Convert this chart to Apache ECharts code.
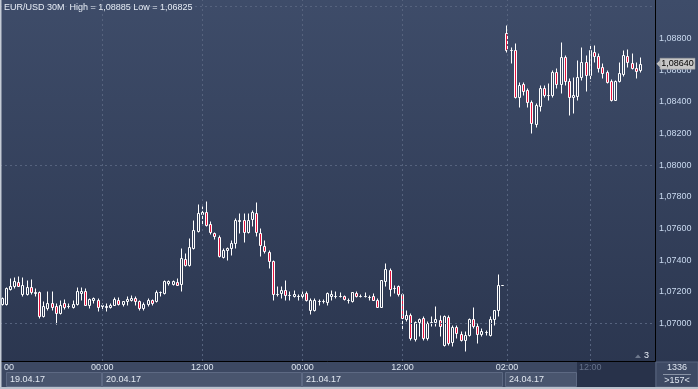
<!DOCTYPE html>
<html><head><meta charset="utf-8">
<script src="https://cdn.jsdelivr.net/npm/echarts/dist/echarts.min.js"></script>
<style>html,body{margin:0;padding:0;background:#2c3750;overflow:hidden}#c{width:698px;height:389px}</style>
</head><body><div id="c"></div>
<script>
// ---- data (EUR/USD 30M) ----
const opens = [1.07126,1.07126,1.07219,1.07235,1.07265,1.07187,1.07187,1.07229,1.07195,1.07200,
1.07050,1.07099,1.07130,1.07109,1.07067,1.07130,1.07108,1.07105,1.07124,1.07193,
1.07203,1.07120,1.07151,1.07151,1.07110,1.07106,1.07105,1.07120,1.07151,1.07126,
1.07140,1.07149,1.07162,1.07145,1.07099,1.07124,1.07149,1.07140,1.07198,1.07193,
1.07256,1.07250,1.07263,1.07250,1.07408,1.07367,1.07477,1.07586,1.07691,1.07704,
1.07628,1.07571,1.07548,1.07418,1.07467,1.07477,1.07508,1.07650,1.07655,1.07575,
1.07660,1.07697,1.07571,1.07487,1.07452,1.07392,1.07187,1.07193,1.07214,1.07180,
1.07172,1.07175,1.07172,1.07193,1.07088,1.07088,1.07144,1.07141,1.07134,1.07176,
1.07176,1.07177,1.07172,1.07151,1.07140,1.07193,1.07176,1.07176,1.07168,1.07172,
1.07151,1.07105,1.07266,1.07340,1.07224,1.07235,1.07189,1.07030,1.07057,1.06904,
1.07008,1.07036,1.06910,1.07007,1.07008,1.07025,1.06868,1.07042,1.06882,1.06979,
1.06937,1.06895,1.06931,1.07030,1.06987,1.06937,1.06946,1.06931,1.07030,1.07084,
1.07246,1.08831,1.08724,1.08726,1.08428,1.08510,1.08474,1.08400,1.08260,1.08373,
1.08485,1.08443,1.08443,1.08586,1.08512,1.08684,1.08533,1.08428,1.08436,1.08554,
1.08652,1.08569,1.08715,1.08688,1.08621,1.08590,1.08533,1.08411,1.08533,1.08575,
1.08688,1.08646,1.08615,1.08600];
const closes = [1.07164,1.07227,1.07239,1.07266,1.07239,1.07246,1.07229,1.07200,1.07202,1.07046,
1.07109,1.07130,1.07105,1.07067,1.07120,1.07105,1.07110,1.07126,1.07203,1.07208,
1.07120,1.07156,1.07162,1.07105,1.07115,1.07110,1.07120,1.07156,1.07126,1.07140,
1.07158,1.07162,1.07140,1.07099,1.07124,1.07151,1.07130,1.07200,1.07200,1.07271,
1.07271,1.07266,1.07246,1.07414,1.07372,1.07483,1.07592,1.07697,1.07704,1.07624,
1.07578,1.07554,1.07424,1.07466,1.07478,1.07508,1.07655,1.07655,1.07575,1.07655,
1.07707,1.07575,1.07498,1.07455,1.07392,1.07189,1.07189,1.07214,1.07181,1.07181,
1.07187,1.07177,1.07187,1.07151,1.07151,1.07147,1.07145,1.07140,1.07193,1.07189,
1.07177,1.07176,1.07156,1.07150,1.07197,1.07172,1.07177,1.07176,1.07170,1.07151,
1.07105,1.07273,1.07345,1.07219,1.07225,1.07187,1.07036,1.07057,1.06910,1.07008,
1.07030,1.06910,1.07004,1.07009,1.07030,1.06983,1.07046,1.06878,1.06979,1.06941,
1.06899,1.06931,1.07030,1.06987,1.06937,1.06951,1.06946,1.07030,1.07084,1.07246,
1.07246,1.08726,1.08726,1.08428,1.08506,1.08470,1.08400,1.08264,1.08380,1.08485,
1.08443,1.08445,1.08590,1.08512,1.08680,1.08533,1.08432,1.08443,1.08558,1.08652,
1.08569,1.08726,1.08690,1.08611,1.08579,1.08526,1.08411,1.08533,1.08579,1.08695,
1.08652,1.08611,1.08596,1.08640];
const lows = [1.07120,1.07120,1.07215,1.07225,1.07235,1.07172,1.07183,1.07187,1.07172,1.07036,
1.07040,1.07088,1.07088,1.06998,1.07060,1.07095,1.07099,1.07100,1.07120,1.07151,
1.07115,1.07099,1.07130,1.07077,1.07088,1.07082,1.07100,1.07115,1.07120,1.07109,
1.07120,1.07140,1.07120,1.07088,1.07088,1.07113,1.07120,1.07135,1.07172,1.07187,
1.07246,1.07241,1.07241,1.07203,1.07361,1.07362,1.07470,1.07581,1.07628,1.07613,
1.07567,1.07534,1.07420,1.07416,1.07403,1.07435,1.07477,1.07571,1.07518,1.07570,
1.07617,1.07550,1.07424,1.07445,1.07351,1.07147,1.07172,1.07162,1.07151,1.07151,
1.07166,1.07151,1.07162,1.07140,1.07061,1.07077,1.07120,1.07130,1.07120,1.07151,
1.07162,1.07166,1.07147,1.07130,1.07138,1.07168,1.07168,1.07168,1.07147,1.07147,
1.07105,1.07105,1.07235,1.07172,1.07193,1.07172,1.06962,1.07014,1.06899,1.06888,
1.06920,1.06899,1.06899,1.06983,1.06983,1.06920,1.06861,1.06868,1.06861,1.06910,
1.06888,1.06825,1.06920,1.06973,1.06878,1.06920,1.06931,1.06920,1.06994,1.07046,
1.07246,1.08715,1.08646,1.08422,1.08369,1.08443,1.08369,1.08205,1.08239,1.08344,
1.08432,1.08411,1.08432,1.08485,1.08453,1.08506,1.08317,1.08327,1.08411,1.08537,
1.08470,1.08533,1.08652,1.08590,1.08548,1.08516,1.08407,1.08411,1.08526,1.08562,
1.08621,1.08605,1.08548,1.08590];
const highs = [1.07170,1.07230,1.07288,1.07292,1.07302,1.07292,1.07277,1.07282,1.07225,1.07205,
1.07140,1.07208,1.07203,1.07130,1.07151,1.07156,1.07130,1.07151,1.07231,1.07231,
1.07225,1.07160,1.07166,1.07160,1.07130,1.07130,1.07130,1.07166,1.07166,1.07145,
1.07172,1.07183,1.07172,1.07151,1.07137,1.07162,1.07158,1.07214,1.07203,1.07275,
1.07277,1.07277,1.07288,1.07477,1.07445,1.07540,1.07655,1.07754,1.07739,1.07775,
1.07645,1.07581,1.07561,1.07477,1.07483,1.07529,1.07666,1.07697,1.07701,1.07701,
1.07718,1.07770,1.07603,1.07529,1.07466,1.07403,1.07235,1.07235,1.07277,1.07203,
1.07214,1.07189,1.07203,1.07203,1.07162,1.07162,1.07156,1.07156,1.07197,1.07214,
1.07203,1.07197,1.07181,1.07162,1.07202,1.07203,1.07189,1.07202,1.07183,1.07193,
1.07162,1.07275,1.07382,1.07351,1.07246,1.07246,1.07193,1.07088,1.07067,1.07014,
1.07036,1.07046,1.07014,1.07046,1.07113,1.07057,1.07057,1.07057,1.06994,1.06994,
1.06951,1.06951,1.07036,1.07105,1.07004,1.06973,1.06958,1.07050,1.07088,1.07315,
1.07246,1.08885,1.08747,1.08768,1.08526,1.08526,1.08485,1.08411,1.08390,1.08506,
1.08506,1.08516,1.08600,1.08611,1.08778,1.08695,1.08548,1.08558,1.08663,1.08747,
1.08695,1.08758,1.08758,1.08705,1.08642,1.08600,1.08542,1.08537,1.08652,1.08726,
1.08731,1.08705,1.08652,1.08680];
const slotCount = 157;                       // visible bars (">157<")
const totalBars = 1336;
const yTicks = [1.070,1.072,1.074,1.076,1.078,1.080,1.082,1.084,1.086,1.088];
const xTickIdx  = [24, 48, 72, 96, 121, 141];
const xTickText = ['00:00','12:00','00:00','12:00','02:00','12:00'];
const dateText  = ['19.04.17','20.04.17','21.04.17','24.04.17'];
const lastPrice = 1.08640;

// ---- build ----
const categories = Array.from({length: slotCount}, (_, i) => String(i));
const candles = opens.map((o, i) => [i, o, closes[i], lows[i], highs[i]]);
const fmt = v => v.toFixed(5).replace('.', ',');
const hi = Math.max(...highs), lo = Math.min(...lows);
const FONT = '"Liberation Sans", Arial, sans-serif';
const gridCol = '#56637e';
const BEAR = '#e6123c';

function renderCandle(params, api) {
  const i = api.value(0), o = api.value(1), c = api.value(2), l = api.value(3), h = api.value(4);
  const pO = api.coord([i, o]), pC = api.coord([i, c]);
  const pL = api.coord([i, l]), pH = api.coord([i, h]);
  const x = Math.floor(pO[0]) + 0.5;                 // crisp pixel column
  const yT = Math.round(Math.min(pO[1], pC[1])) + 0.5;
  const yB = Math.round(Math.max(pO[1], pC[1])) + 0.5;
  const yH = Math.round(pH[1]) + 0.5, yL = Math.round(pL[1]) + 0.5;
  const stroke = {stroke: '#ffffff', lineWidth: 1};
  return {
    type: 'group',
    children: [
      {type: 'line', shape: {x1: x, y1: yH, x2: x, y2: yT}, style: stroke},
      {type: 'line', shape: {x1: x, y1: yB, x2: x, y2: yL}, style: stroke},
      {type: 'rect', shape: {x: x - 1, y: yT, width: 2, height: yB - yT},
       style: {fill: c < o ? BEAR : 'rgba(0,0,0,0)', stroke: '#ffffff', lineWidth: 1}}
    ]
  };
}

const chart = echarts.init(document.getElementById('c'), null, {renderer: 'canvas'});
const option = {
  animation: false,
  backgroundColor: {type: 'linear', x: 0, y: 0, x2: 0, y2: 1, colorStops: [
    {offset: 0, color: '#3e4c69'}, {offset: 1, color: '#2a354e'}]},
  title: {
    text: 'EUR/USD 30M  High = ' + fmt(hi) + ' Low = ' + fmt(lo),
    left: 1, top: 1, padding: [2, 3],
    textStyle: {color: '#e6ecf5', fontSize: 9, fontWeight: 'normal', fontFamily: FONT}
  },
  grid: {left: 0, right: 43, top: 0, bottom: 28, containLabel: false, outerBoundsMode: 'none'},
  xAxis: {
    type: 'category', data: categories, boundaryGap: true,
    axisLine: {show: true, onZero: false, lineStyle: {color: '#000', width: 1}},
    axisTick: {show: false},
    splitLine: {show: false},
    axisLabel: {
      show: true, margin: 2, fontSize: 9, fontFamily: FONT, color: '#dde5f0',
      interval: (idx) => xTickIdx.includes(idx),
      formatter: (v, idx) => {
        const k = xTickIdx.indexOf(Number(v));
        if (k < 0) return '';
        return k === xTickIdx.length - 1 ? '{g|' + xTickText[k] + '}' : xTickText[k];
      },
      rich: {g: {color: '#66728a', fontSize: 9, fontFamily: FONT}}
    }
  },
  yAxis: {
    type: 'value', position: 'right', scale: true,
    min: 1.06764, max: 1.09042, splitNumber: 11, minInterval: 0.002, maxInterval: 0.002,
    axisLine: {show: true, lineStyle: {color: '#000', width: 1}},
    axisTick: {show: false},
    splitLine: {show: false},
    axisLabel: {
      margin: 4, fontSize: 9, fontFamily: FONT, color: '#c9d9ef',
      showMinLabel: false, showMaxLabel: false,
      formatter: v => {
        const t = yTicks.find(t => Math.abs(t - v) < 1e-7);
        return t === undefined ? '' : fmt(t);
      }
    }
  },
  series: [
    { // grid lines drawn through the axes' scales, beneath the candles
      type: 'line', data: [], z: 1, silent: true,
      markLine: {
        silent: true, symbol: ['none', 'none'], animation: false,
        label: {show: false},
        lineStyle: {type: [2, 3], color: gridCol, width: 1},
        emphasis: {disabled: true},
        data: yTicks.map(v => ({yAxis: v})).concat(xTickIdx.map(i => ({xAxis: String(i)})))
      }
    },
    {
      type: 'custom', name: 'EURUSD', data: candles, z: 3, clip: true, silent: true,
      encode: {x: 0, y: [1, 2, 3, 4]},
      renderItem: renderCandle
    }
  ]
};
chart.setOption(option);

// ---- decorations (bottom band, price marker) ----
const yLast = chart.convertToPixel({yAxisIndex: 0}, lastPrice);
const lbl = {fontSize: 9, fontFamily: FONT};
const dateBoxes = [[6, 96], [102, 200], [302, 201], [505, 72]];
const g = [
  {type: 'rect', shape: {x: 0, y: 362, width: 698, height: 27}, style: {fill: '#3c4862'}, z: -1},
  {type: 'rect', shape: {x: 577, y: 362, width: 78, height: 25}, style: {fill: '#28324a'}, z: -1},
  {type: 'rect', shape: {x: 656, y: 362, width: 42, height: 25}, style: {fill: '#3e4a64', stroke: '#56627c', lineWidth: 1}, z: -1},
  {type: 'text', x: 677, y: 368, style: Object.assign({text: String(totalBars), fill: '#dfe6f0', align: 'center', verticalAlign: 'middle'}, lbl)},
  {type: 'line', shape: {x1: 663, y1: 374.5, x2: 691, y2: 374.5}, style: {stroke: '#8a94a6', lineWidth: 1}},
  {type: 'text', x: 677, y: 381, style: Object.assign({text: '>' + slotCount + '<', fill: '#dfe6f0', align: 'center', verticalAlign: 'middle'}, lbl)},
  {type: 'text', x: 4, y: 368, style: Object.assign({text: '00', fill: '#dde5f0', align: 'left', verticalAlign: 'middle'}, lbl)},
  {type: 'rect', shape: {x: 0, y: 0, width: 1.5, height: 389}, style: {fill: '#c5ccd6'}, z: 5},
  {type: 'rect', shape: {x: 0, y: 387, width: 698, height: 2}, style: {fill: '#b9c1cc'}, z: 5},
  {type: 'polygon', shape: {points: [[635, 358], [641, 358], [638, 354.5]]}, style: {fill: '#6d788c'}},
  {type: 'text', x: 644, y: 356, style: Object.assign({text: '3', fill: '#e6ecf5', align: 'left', verticalAlign: 'middle'}, lbl)},
  {type: 'polygon', shape: {points: [[656.5, yLast], [660.5, yLast - 4], [660.5, yLast + 4]]}, style: {fill: '#c4c4c4'}, z: 6},
  {type: 'rect', shape: {x: 660, y: yLast - 5.5, width: 35, height: 11}, style: {fill: '#c6c6c6', stroke: '#9a9a9a', lineWidth: 0.5}, z: 6},
  {type: 'text', x: 677.5, y: yLast, style: Object.assign({text: fmt(lastPrice), fill: '#000', align: 'center', verticalAlign: 'middle'}, lbl), z: 7}
];
dateBoxes.forEach((b, k) => {
  g.push({type: 'rect', shape: {x: b[0] + 0.5, y: 372.5, width: b[1] - 1, height: 14}, style: {fill: '#49556e', stroke: '#5d6983', lineWidth: 1}, z: -1});
  g.push({type: 'text', x: b[0] + 4, y: 380, style: Object.assign({text: dateText[k], fill: '#e2e8f1', align: 'left', verticalAlign: 'middle'}, lbl)});
});
chart.setOption({graphic: g});
</script>
</body></html>
